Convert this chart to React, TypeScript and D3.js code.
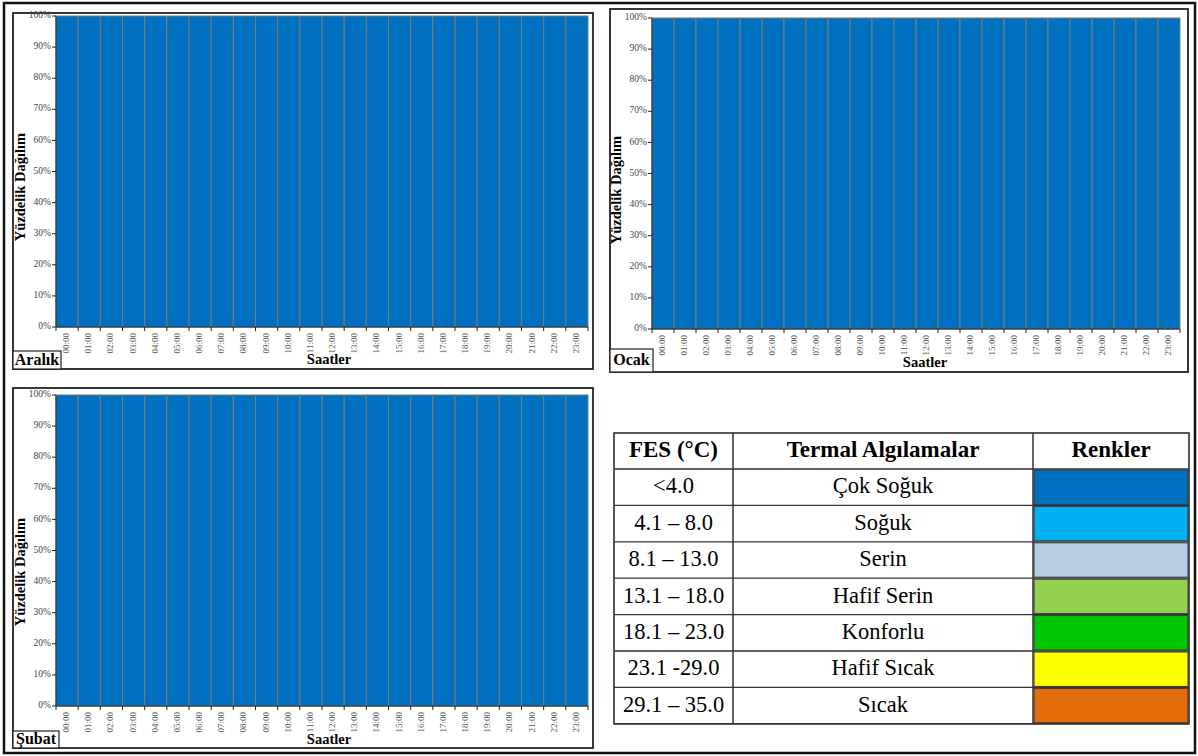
import React from "react";
import * as d3 from "d3";

const hours = ["00:00","01:00","02:00","03:00","04:00","05:00","06:00","07:00","08:00","09:00","10:00","11:00","12:00","13:00","14:00","15:00","16:00","17:00","18:00","19:00","20:00","21:00","22:00","23:00"];
const yTicks = [0, 10, 20, 30, 40, 50, 60, 70, 80, 90, 100];

const categories = ["Çok Soğuk", "Soğuk", "Serin", "Hafif Serin", "Konforlu", "Hafif Sıcak", "Sıcak"];
const ranges = ["<4.0", "4.1 – 8.0", "8.1 – 13.0", "13.1 – 18.0", "18.1 – 23.0", "23.1 -29.0", "29.1 – 35.0"];
const colors = ["#0070C0", "#00B0F0", "#B8CCE4", "#92D050", "#00C800", "#FFFF00", "#E36C0A"];

// Percent share of "Çok Soğuk" per hour (all other classes 0%)
const aralikCokSoguk = [100,100,100,100,100,100,100,100,100,100,100,100,100,100,100,100,100,100,100,100,100,100,100,100];
const ocakCokSoguk   = [100,100,100,100,100,100,100,100,100,100,100,100,100,100,100,100,100,100,100,100,100,100,100,100];
const subatCokSoguk  = [100,100,100,100,100,100,100,100,100,100,100,100,100,100,100,100,100,100,100,100,100,100,100,100];
const zeroShare      = [0,0,0,0,0,0,0,0,0,0,0,0,0,0,0,0,0,0,0,0,0,0,0,0];

const buildRows = (cok: number[]) =>
  hours.map((h, i) => {
    const row: any = { hour: h };
    categories.forEach((c, k) => { row[c] = k === 0 ? cok[i] : zeroShare[i]; });
    return row;
  });

const SERIF = "'Liberation Serif', 'Times New Roman', serif";

type PanelProps = {
  label: string;
  rows: any[];
  frame: [number, number, number, number];
  plot: [number, number, number, number];
  labelBox: [number, number, number, number];
  yTitle: [number, number];
  xTitle: [number, number];
};

function Panel({ label, rows, frame, plot, labelBox, yTitle, xTitle }: PanelProps) {
  const [pl, pt, pr, pb] = plot;
  const x = d3.scaleBand<string>().domain(hours).range([pl, pr]).padding(0);
  const y = d3.scaleLinear().domain([0, 100]).range([pb, pt]);
  const stack = d3.stack<any>().keys(categories);
  const series = stack(rows);
  const [fx0, fy0, fx1, fy1] = frame;
  const [lx0, ly0, lx1, ly1] = labelBox;
  return (
    <g>
      <rect x={fx0} y={fy0} width={fx1 - fx0} height={fy1 - fy0} fill="#fff" stroke="#222" strokeWidth={1.8} />
      {series.map((s, k) => (
        <g key={k}>
          {s.map((d, i) => {
            const h = y(d[0]) - y(d[1]);
            if (h <= 0) return null;
            return (
              <rect key={i} x={x(hours[i])!} y={y(d[1])} width={x.bandwidth()} height={h}
                fill={colors[k]} stroke="#7a7a7a" strokeWidth={1} />
            );
          })}
        </g>
      ))}
      <line x1={pl} x2={pl} y1={pt} y2={pb} stroke="#222" strokeWidth={1} />
      {yTicks.map((t) => (
        <g key={t}>
          <line x1={pl - 4} x2={pl} y1={y(t)} y2={y(t)} stroke="#222" strokeWidth={1} />
          <text x={pl - 5} y={y(t)} textAnchor="end" dominantBaseline="middle" fontFamily={SERIF} fontSize={9.5} fill="#444">{t + "%"}</text>
        </g>
      ))}
      <line x1={pl} x2={pr} y1={pb} y2={pb} stroke="#222" strokeWidth={1} />
      {hours.map((h, i) => (
        <g key={h}>
          <line x1={x(h)!} x2={x(h)!} y1={pb} y2={pb + 4} stroke="#222" strokeWidth={1} />
          <text transform={`translate(${x(h)! + x.bandwidth() / 2},${pb + 6}) rotate(-90)`} textAnchor="end" dominantBaseline="middle"
            fontFamily={SERIF} fontSize={9} fill="#555">{h}</text>
        </g>
      ))}
      <line x1={pr} x2={pr} y1={pb} y2={pb + 4} stroke="#222" strokeWidth={1} />
      <text x={xTitle[0]} y={xTitle[1]} textAnchor="middle" fontFamily={SERIF} fontWeight="bold" fontSize={14.5} fill="#000">Saatler</text>
      <text transform={`translate(${yTitle[0]},${yTitle[1]}) rotate(-90)`} textAnchor="middle" dominantBaseline="middle"
        fontFamily={SERIF} fontWeight="bold" fontSize={14.5} fill="#000">Yüzdelik Dağılım</text>
      <rect x={lx0} y={ly0} width={lx1 - lx0} height={ly1 - ly0} fill="#fff" stroke="#222" strokeWidth={1.2} />
      <text x={(lx0 + lx1) / 2} y={(ly0 + ly1) / 2 + 1} textAnchor="middle" dominantBaseline="middle" fontFamily={SERIF} fontWeight="bold" fontSize={16} fill="#000">{label}</text>
    </g>
  );
}

function Legend() {
  const colX = [614, 733, 1033, 1189];
  const top = 433;
  const headH = 36;
  const rowH = 36.4;
  const bottom = top + headH + rowH * categories.length;
  const rowY = (i: number) => top + headH + rowH * i;
  return (
    <g fontFamily={SERIF}>
      <rect x={colX[0]} y={top} width={colX[3] - colX[0]} height={bottom - top} fill="#fff" stroke="#222" strokeWidth={1.5} />
      {categories.map((c, i) => (
        <rect key={c} x={colX[2] + 1} y={rowY(i) + 1} width={colX[3] - colX[2] - 2} height={rowH - 2} fill={colors[i]} stroke="#333" strokeWidth={1} />
      ))}
      {[1, 2].map((k) => (
        <line key={k} x1={colX[k]} x2={colX[k]} y1={top} y2={bottom} stroke="#333" strokeWidth={1.5} />
      ))}
      {d3.range(categories.length + 1).map((i) => (
        <line key={i} x1={colX[0]} x2={colX[3]} y1={rowY(i)} y2={rowY(i)} stroke="#333" strokeWidth={1.3} />
      ))}
      <text x={(colX[0] + colX[1]) / 2} y={top + headH / 2 + 1} textAnchor="middle" dominantBaseline="middle" fontWeight="bold" fontSize={23}>FES (°C)</text>
      <text x={(colX[1] + colX[2]) / 2} y={top + headH / 2 + 1} textAnchor="middle" dominantBaseline="middle" fontWeight="bold" fontSize={23}>Termal Algılamalar</text>
      <text x={(colX[2] + colX[3]) / 2} y={top + headH / 2 + 1} textAnchor="middle" dominantBaseline="middle" fontWeight="bold" fontSize={23}>Renkler</text>
      {categories.map((c, i) => (
        <g key={c}>
          <text x={(colX[0] + colX[1]) / 2} y={rowY(i) + rowH / 2 + 1} textAnchor="middle" dominantBaseline="middle" fontSize={22.5}>{ranges[i]}</text>
          <text x={(colX[1] + colX[2]) / 2} y={rowY(i) + rowH / 2 + 1} textAnchor="middle" dominantBaseline="middle" fontSize={22.5}>{c}</text>
        </g>
      ))}
    </g>
  );
}

export default function App() {
  return (
    <svg width={1198} height={756} style={{ position: "absolute", left: 0, top: 0, background: "#fff" }}>
      <rect x={0} y={0} width={1198} height={756} fill="#fff" />
      <rect x={4} y={3} width={1191} height={750} fill="none" stroke="#111" strokeWidth={2.5} />
      <Panel label="Aralık" rows={buildRows(aralikCokSoguk)} frame={[13, 13, 593, 369]} plot={[56, 16, 588, 327]}
        labelBox={[13, 351, 61, 369]} yTitle={[22, 187]} xTitle={[329, 364]} />
      <Panel label="Ocak" rows={buildRows(ocakCokSoguk)} frame={[610, 9, 1188, 372]} plot={[652, 18, 1180, 329]}
        labelBox={[610, 349, 653, 372]} yTitle={[618, 190]} xTitle={[925, 367]} />
      <Panel label="Şubat" rows={buildRows(subatCokSoguk)} frame={[13, 388, 593, 748]} plot={[56, 395, 588, 706]}
        labelBox={[13, 731, 59, 748]} yTitle={[22, 572]} xTitle={[329, 744]} />
      <Legend />
    </svg>
  );
}
